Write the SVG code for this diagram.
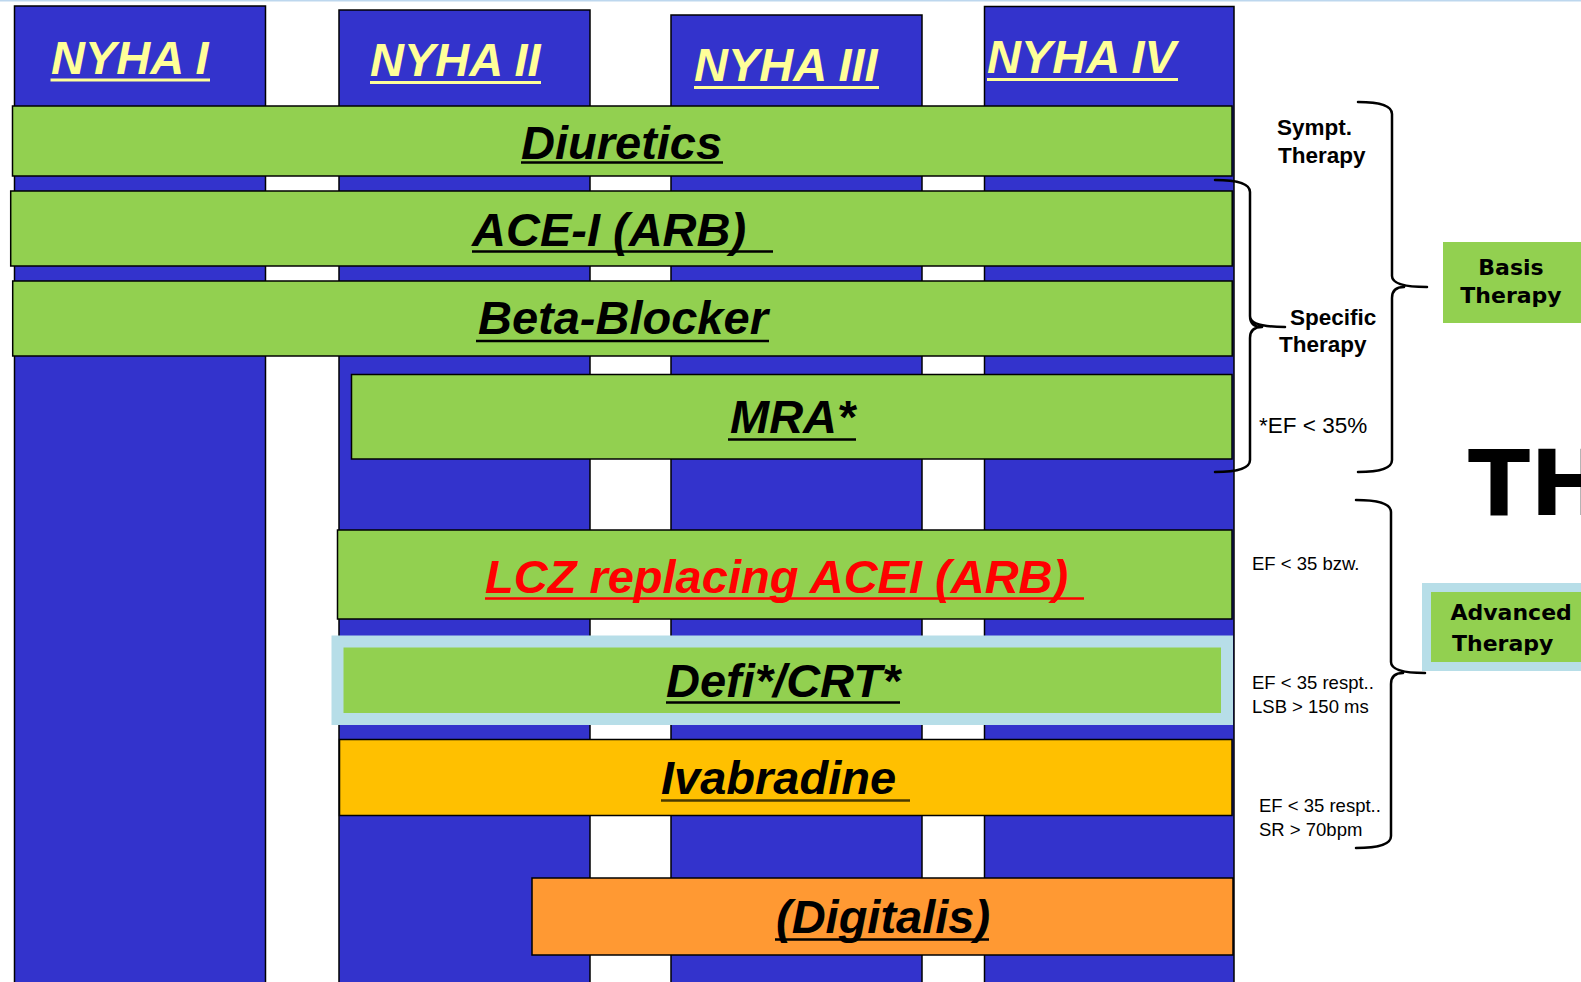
<svg xmlns="http://www.w3.org/2000/svg" width="1581" height="982" viewBox="0 0 1581 982">
<style>
.col{fill:#3333CC;stroke:#000;stroke-width:1.5}
.bar{fill:#92D050;stroke:#000;stroke-width:1.5}
.big{font-family:"Liberation Sans",Arial,sans-serif;font-weight:bold;font-style:italic;font-size:47px}
.hdr{fill:#FFFF99}
.blk{fill:#000}
.ul{stroke:#000;stroke-width:2.5}
.ulh{stroke:#FFFF99;stroke-width:3}
.side{font-family:"Liberation Sans",Arial,sans-serif;font-weight:bold;font-size:22.5px;fill:#000}
.note{font-family:"Liberation Sans",Arial,sans-serif;font-size:22.5px;fill:#000}
.small{font-family:"Liberation Sans",Arial,sans-serif;font-size:18.5px;fill:#000}
.lab{font-family:"DejaVu Sans",Verdana,sans-serif;font-weight:bold;font-size:22px;fill:#000}
.brace{fill:none;stroke:#000;stroke-width:2.5;stroke-linecap:round;stroke-linejoin:round}
</style>
<rect x="0" y="0" width="1581" height="982" fill="#fff"/>
<rect x="0" y="0" width="1581" height="1.5" fill="#BDD7EE"/>

<g id="col-nyha1"><rect class="col" x="14.5" y="6" width="251" height="990"/><text class="big hdr" x="51" y="74">NYHA I</text><line class="ulh" x1="50.5" y1="80" x2="210" y2="80"/></g>
<g id="col-nyha2"><rect class="col" x="339" y="10" width="251" height="990"/><text class="big hdr" x="370" y="76">NYHA II</text><line class="ulh" x1="370" y1="82.5" x2="541" y2="82.5"/></g>
<g id="col-nyha3"><rect class="col" x="671" y="15" width="251" height="990"/><text class="big hdr" x="694" y="81">NYHA III</text><line class="ulh" x1="694" y1="87.5" x2="879" y2="87.5"/></g>
<g id="col-nyha4"><rect class="col" x="984.5" y="6.5" width="249.5" height="990"/><text class="big hdr" x="987" y="73">NYHA IV</text><line class="ulh" x1="987" y1="79.5" x2="1178" y2="79.5"/></g>

<g id="bar-diuretics"><rect class="bar" x="12.5" y="106" width="1219.5" height="70"/><text class="big blk" x="521" y="159">Diuretics</text><line class="ul" x1="521" y1="162.5" x2="723" y2="162.5"/></g>
<g id="bar-ace"><rect class="bar" x="10.7" y="191" width="1221.5" height="75"/><text class="big blk" x="472" y="245.5">ACE-I (ARB)</text><line class="ul" x1="472" y1="251.5" x2="773" y2="251.5"/></g>
<g id="bar-beta"><rect class="bar" x="12.7" y="281" width="1219.5" height="75"/><text class="big blk" x="478" y="334">Beta-Blocker</text><line class="ul" x1="476" y1="341" x2="769" y2="341"/></g>
<g id="bar-mra"><rect class="bar" x="351.5" y="374.5" width="880.5" height="84.5"/><text class="big blk" x="730" y="433">MRA*</text><line class="ul" x1="728" y1="439.5" x2="856" y2="439.5"/></g>
<g id="bar-lcz"><rect class="bar" x="337.5" y="530" width="894.5" height="89"/><text class="big" fill="#FF0000" x="485" y="593">LCZ replacing ACEI (ARB)</text><line x1="485" y1="598.5" x2="1084" y2="598.5" stroke="#FF0000" stroke-width="2.5"/></g>
<g id="bar-defi"><rect x="337.5" y="641.5" width="889.5" height="77.5" fill="#92D050" stroke="#B7DEE8" stroke-width="12"/><text class="big blk" x="666" y="696.5">Defi*/CRT*</text><line class="ul" x1="666" y1="702.5" x2="900" y2="702.5"/></g>
<g id="bar-ivabradine"><rect x="339.5" y="739.5" width="892.5" height="76" fill="#FFC000" stroke="#000" stroke-width="1.5"/><text class="big blk" x="661" y="794">Ivabradine</text><line x1="661" y1="800.5" x2="910" y2="800.5" stroke="#4a3a00" stroke-width="2.5"/></g>
<g id="bar-digitalis"><rect x="532" y="878" width="701" height="77" fill="#FF9933" stroke="#000" stroke-width="1.5"/><text class="big blk" x="776" y="933">(Digitalis)</text><line class="ul" x1="775" y1="939.5" x2="989" y2="939.5"/></g>

<g id="connectors">
<path class="brace" d="M1215,180 Q1250,180 1250,192 L1250,316 Q1250,327 1285,327 M1250,316 Q1250,327 1262,327 M1250,338 Q1250,327 1262,327 M1250,338 L1250,460 Q1250,472 1215,472"/>
<path class="brace" d="M1358,102 Q1392,102 1392,114 L1392,276 Q1392,287 1427,287 M1392,298 Q1392,287 1404,287 M1392,298 L1392,460 Q1392,472 1358,472"/>
<path class="brace" d="M1356,500 Q1391,500 1391,512 L1391,662 Q1391,673 1425,673 M1391,684 Q1391,673 1403,673 M1391,684 L1391,836 Q1391,848 1356,848"/>
</g>

<g id="note-sympt"><text class="side" x="1277" y="135">Sympt.</text><text class="side" x="1278" y="163">Therapy</text></g>
<g id="note-specific"><text class="side" x="1290" y="325">Specific</text><text class="side" x="1279" y="352">Therapy</text></g>
<g id="note-ef35"><text class="note" x="1259" y="433">*EF &lt; 35%</text></g>
<g id="note-bzw"><text class="small" x="1252" y="570">EF &lt; 35 bzw.</text></g>
<g id="note-lsb"><text class="small" x="1252" y="689">EF &lt; 35 respt..</text><text class="small" x="1252" y="712.5">LSB &gt; 150 ms</text></g>
<g id="note-sr"><text class="small" x="1259" y="812">EF &lt; 35 respt..</text><text class="small" x="1259" y="835.5">SR &gt; 70bpm</text></g>

<g id="box-basis"><rect x="1443" y="242" width="150" height="81" fill="#92D050"/><text class="lab" x="1511" y="275" text-anchor="middle">Basis</text><text class="lab" x="1511" y="303" text-anchor="middle">Therapy</text></g>
<g id="box-advanced"><rect x="1422" y="583" width="170" height="88" fill="#B7DEE8"/><rect x="1431" y="592" width="160" height="70" fill="#92D050"/><text class="lab" x="1450.5" y="619.5">Advanced</text><text class="lab" x="1452" y="650.5">Therapy</text></g>

<g id="title-th"><text x="1468" y="515" font-family="DejaVu Sans,sans-serif" font-weight="bold" font-size="91" fill="#000">TH</text></g>
</svg>
